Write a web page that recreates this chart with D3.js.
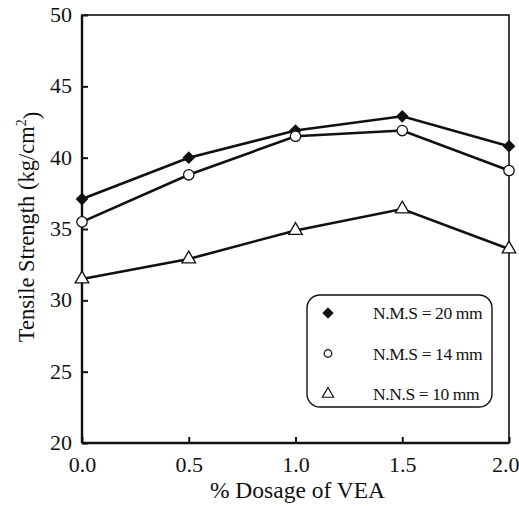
<!DOCTYPE html>
<html>
<head>
<meta charset="utf-8">
<script src="https://cdn.jsdelivr.net/npm/d3@7"></script>
<style>
  body { margin: 0; background: #fff; }
  text { font-family: "Liberation Serif", "Times New Roman", serif; fill: #111; }
</style>
</head>
<body>
<script>
// data
const dosage = [0.0, 0.5, 1.0, 1.5, 2.0]
const nms20 = [37.1, 40.0, 41.9, 42.9, 40.8]
const nms14 = [35.5, 38.8, 41.5, 41.9, 39.1]
const nns10 = [31.5, 32.9, 34.9, 36.4, 33.6]
const xTicks = [0, 0.5, 1.0, 1.5, 2.0]
const yTicks = [20, 25, 30, 35, 40, 45, 50]
const legendLabels = ["N.M.S = 20 mm", "N.M.S = 14 mm", "N.N.S = 10 mm"]

const svgWidth = 519, svgHeight = 506
const margin = {top: 15, right: 10, bottom: 63, left: 82}
const gWidth = svgWidth - margin.left - margin.right
const gHeight = svgHeight - margin.top - margin.bottom

const svg = d3.select("body").append("svg")
  .attr("width", svgWidth)
  .attr("height", svgHeight)

const g = svg.append("g")
  .attr("transform", "translate(" + margin.left + "," + margin.top + ")")

const x = d3.scaleLinear().domain([0, 2]).range([0, gWidth])
const y = d3.scaleLinear().domain([20, 50]).range([gHeight, 0])

// frame
g.append("rect")
  .attr("width", gWidth).attr("height", gHeight)
  .attr("fill", "none").attr("stroke", "#111").attr("stroke-width", 1.6)
g.append("line").attr("x1", 0).attr("x2", 0).attr("y1", 0).attr("y2", gHeight)
  .attr("stroke", "#111").attr("stroke-width", 2.4)
g.append("line").attr("x1", 0).attr("x2", gWidth).attr("y1", gHeight).attr("y2", gHeight)
  .attr("stroke", "#111").attr("stroke-width", 2.4)

// axes, ticks inside
const xAxis = d3.axisBottom(x).tickValues(xTicks).tickSizeInner(-6).tickSizeOuter(0)
  .tickPadding(13).tickFormat(d3.format(".1f"))
const yAxis = d3.axisLeft(y).tickValues(yTicks).tickSizeInner(-6).tickSizeOuter(0)
  .tickPadding(10).tickFormat(d3.format("d"))

const gx = g.append("g").attr("transform", "translate(0," + gHeight + ")").call(xAxis)
const gy = g.append("g").call(yAxis)
;[gx, gy].forEach(a => {
  a.select(".domain").remove()
  a.selectAll(".tick line").attr("stroke", "#111").attr("stroke-width", 2)
  a.selectAll(".tick text").style("font-size", "22px").attr("fill", "#111")
    .style("font-family", '"Liberation Serif", serif')
})
gy.selectAll(".tick text").attr("dy", "0.3em")
// last x label would run past the page edge
gx.selectAll(".tick text").filter(d => d === 2).attr("text-anchor", "end").attr("x", 10)

// axis titles
svg.append("text")
  .attr("x", margin.left + x(1) + 2).attr("y", 498)
  .attr("text-anchor", "middle").style("font-size", "23.5px")
  .text("% Dosage of VEA")

const yt = svg.append("text")
  .attr("transform", "translate(34,227) rotate(-90)")
  .attr("text-anchor", "middle").style("font-size", "22.5px")
yt.append("tspan").text("Tensile Strength (kg/cm")
yt.append("tspan").attr("dy", "-0.55em").style("font-size", "14px").text("2")
yt.append("tspan").attr("dy", "0.55em").text(")")

// series
const series = [
  {vals: nms20, sym: d3.symbolDiamond2, size: 75, fill: "#111"},
  {vals: nms14, sym: d3.symbolCircle, size: 85, fill: "#fff"},
  {vals: nns10, sym: d3.symbolTriangle, size: 80, fill: "#fff"}
]

const line = d3.line().x(d => x(d[0])).y(d => y(d[1]))

series.forEach(s => {
  const pts = dosage.map((d, i) => [d, s.vals[i]])
  g.append("path").datum(pts)
    .attr("d", line).attr("fill", "none")
    .attr("stroke", "#111").attr("stroke-width", 2.6)
  g.selectAll(null).data(pts).enter().append("path")
    .attr("transform", d => "translate(" + x(d[0]) + "," + y(d[1]) + ")")
    .attr("d", d3.symbol().type(s.sym).size(s.size))
    .attr("fill", s.fill).attr("stroke", "#111").attr("stroke-width", 1.3)
})

// legend
const legend = svg.append("g").attr("transform", "translate(307,295)")
legend.append("rect")
  .attr("width", 185).attr("height", 112).attr("rx", 13)
  .attr("fill", "#fff").attr("stroke", "#111").attr("stroke-width", 1.4)

const legendSizes = [60, 45, 55]
legendLabels.forEach((lab, i) => {
  const row = legend.append("g").attr("transform", "translate(0," + (18 + i * 40.5) + ")")
  row.append("path")
    .attr("transform", "translate(21,0)")
    .attr("d", d3.symbol().type(series[i].sym).size(legendSizes[i]))
    .attr("fill", series[i].fill).attr("stroke", "#111").attr("stroke-width", 1.2)
  row.append("text")
    .attr("x", 66).attr("y", 6)
    .style("font-size", "17.5px").style("letter-spacing", "-0.4px")
    .text(lab)
})
</script>
</body>
</html>
